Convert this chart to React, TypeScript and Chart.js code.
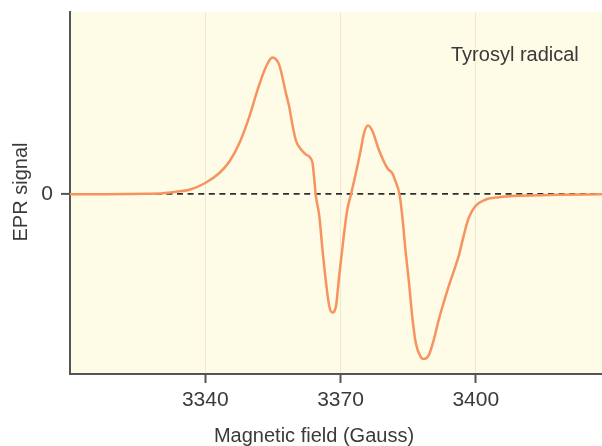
import React, { useEffect, useRef } from "react";
import { Chart, registerables } from "chart.js";

Chart.register(...registerables);

// Magnetic field (Gauss)
const fieldG: number[] = [
  3310, 3318, 3323, 3327, 3330.6, 3333.5, 3336.5, 3339.9, 3343.2, 3345.4,
  3347.6, 3349.8, 3351.6, 3353.5, 3354.9, 3356.4, 3357.9, 3358.6, 3359.4, 3360.1,
  3361.2, 3362.3, 3363.4, 3363.8, 3364.2, 3364.5, 3365.3, 3366.0, 3366.8, 3367.5,
  3368.2, 3369.0, 3369.7, 3370.8, 3371.5, 3372.3, 3373.4, 3374.5, 3375.2, 3376.1,
  3377.1, 3378.5, 3380.4, 3381.5, 3382.2, 3383.1, 3383.7, 3384.4, 3385.2, 3385.9,
  3386.7, 3387.8, 3388.5, 3389.6, 3390.7, 3391.8, 3394.0, 3396.2, 3397.3, 3398.4,
  3399.9, 3402.1, 3405.1, 3409.5, 3418.3, 3428,
];

// EPR signal (arbitrary units)
const signal: number[] = [
  0, 0, 0.2, 0.5, 1, 2.5, 4.5, 11, 21.5, 33,
  51.5, 78, 104.5, 128, 137, 129.5, 101, 88, 68, 54,
  45, 40, 36, 31, 14, -0.5, -22, -55.5, -89, -112,
  -118.5, -112, -82, -39, -15.5, -0.5, 21, 44.5, 61, 68.8,
  63, 44.5, 26, 21, 13, -0.5, -22, -55.5, -89, -122,
  -149, -163, -165, -161, -145.5, -125.5, -92, -62, -42, -24,
  -12, -5.5, -3, -1.5, -0.5, 0,
];

const xTicks: number[] = [3340, 3370, 3400];
const yTicks: number[] = [0];

const xTitle = "Magnetic field (Gauss)";
const yTitle = "EPR signal";
const annotation = "Tyrosyl radical";

const FONT = "'Liberation Sans', Arial, Helvetica, sans-serif";
const TEXT = "#3a3a3a";

export default function App() {
  const ref = useRef<HTMLCanvasElement | null>(null);

  useEffect(() => {
    if (!ref.current) return;

    const bgPlugin = {
      id: "bg",
      beforeDraw(chart: any) {
        const { ctx, chartArea } = chart;
        ctx.save();
        ctx.fillStyle = "#fefbe6";
        ctx.fillRect(chartArea.left, chartArea.top, chartArea.right - chartArea.left, chartArea.bottom - chartArea.top);
        ctx.restore();
      },
    };

    const textPlugin = {
      id: "texts",
      afterDraw(chart: any) {
        const { ctx, chartArea } = chart;
        ctx.save();
        ctx.fillStyle = TEXT;
        ctx.font = `20px ${FONT}`;
        ctx.textBaseline = "alphabetic";
        ctx.textAlign = "left";
        ctx.fillText(annotation, 451, 61);
        ctx.textAlign = "center";
        ctx.fillText(xTitle, 314, 441.5);
        ctx.translate(26.5, (chartArea.top + chartArea.bottom) / 2 - 1);
        ctx.rotate(-Math.PI / 2);
        ctx.textAlign = "center";
        ctx.fillText(yTitle, 0, 0);
        ctx.restore();
      },
    };

    const chart = new Chart(ref.current, {
      type: "line",
      data: {
        datasets: [
          {
            data: fieldG.map((g, i) => ({ x: g, y: signal[i] })),
            borderColor: "#f6935f",
            borderWidth: 2.5,
            pointRadius: 0,
            fill: false,
            cubicInterpolationMode: "monotone",
          },
        ],
      },
      options: {
        animation: false,
        responsive: false,
        layout: { padding: { top: 12, left: 0, right: 0, bottom: 0 } },
        plugins: { legend: { display: false }, tooltip: { enabled: false } },
        scales: {
          x: {
            type: "linear",
            min: 3310,
            max: 3428,
            afterBuildTicks: (s: any) => {
              s.ticks = xTicks.map((v) => ({ value: v }));
            },
            afterFit: (s: any) => {
              s.height = 72;
              s.paddingLeft = 0;
              s.paddingRight = 0;
            },
            grid: {
              color: "#efe9d4",
              lineWidth: 1,
              tickColor: "#555",
              tickWidth: 2,
              tickLength: 9,
            },
            border: { color: "#555", width: 2 },
            ticks: {
              color: TEXT,
              font: { family: FONT, size: 21 },
              padding: 5,
              maxRotation: 0,
              callback: (v: any) => String(v),
            },
          },
          y: {
            type: "linear",
            min: -180,
            max: 182.5,
            afterBuildTicks: (s: any) => {
              s.ticks = yTicks.map((v) => ({ value: v }));
            },
            afterFit: (s: any) => {
              s.width = 70;
              s.paddingTop = 0;
              s.paddingBottom = 0;
            },
            grid: {
              color: "#2e2e2e",
              lineWidth: 1.8,
              tickColor: "#555",
              tickWidth: 2,
              tickLength: 9,
            },
            border: { color: "#555", width: 2, dash: [6, 4.6] },
            ticks: {
              color: TEXT,
              font: { family: FONT, size: 21 },
              padding: 8,
              callback: (v: any) => String(v),
            },
          },
        },
      },
      plugins: [bgPlugin, textPlugin],
    } as any);

    return () => chart.destroy();
  }, []);

  return (
    <div style={{ position: "absolute", left: 0, top: 0, width: 602, height: 446, background: "#fff" }}>
      <canvas ref={ref} width={602} height={446} style={{ display: "block" }} />
    </div>
  );
}
